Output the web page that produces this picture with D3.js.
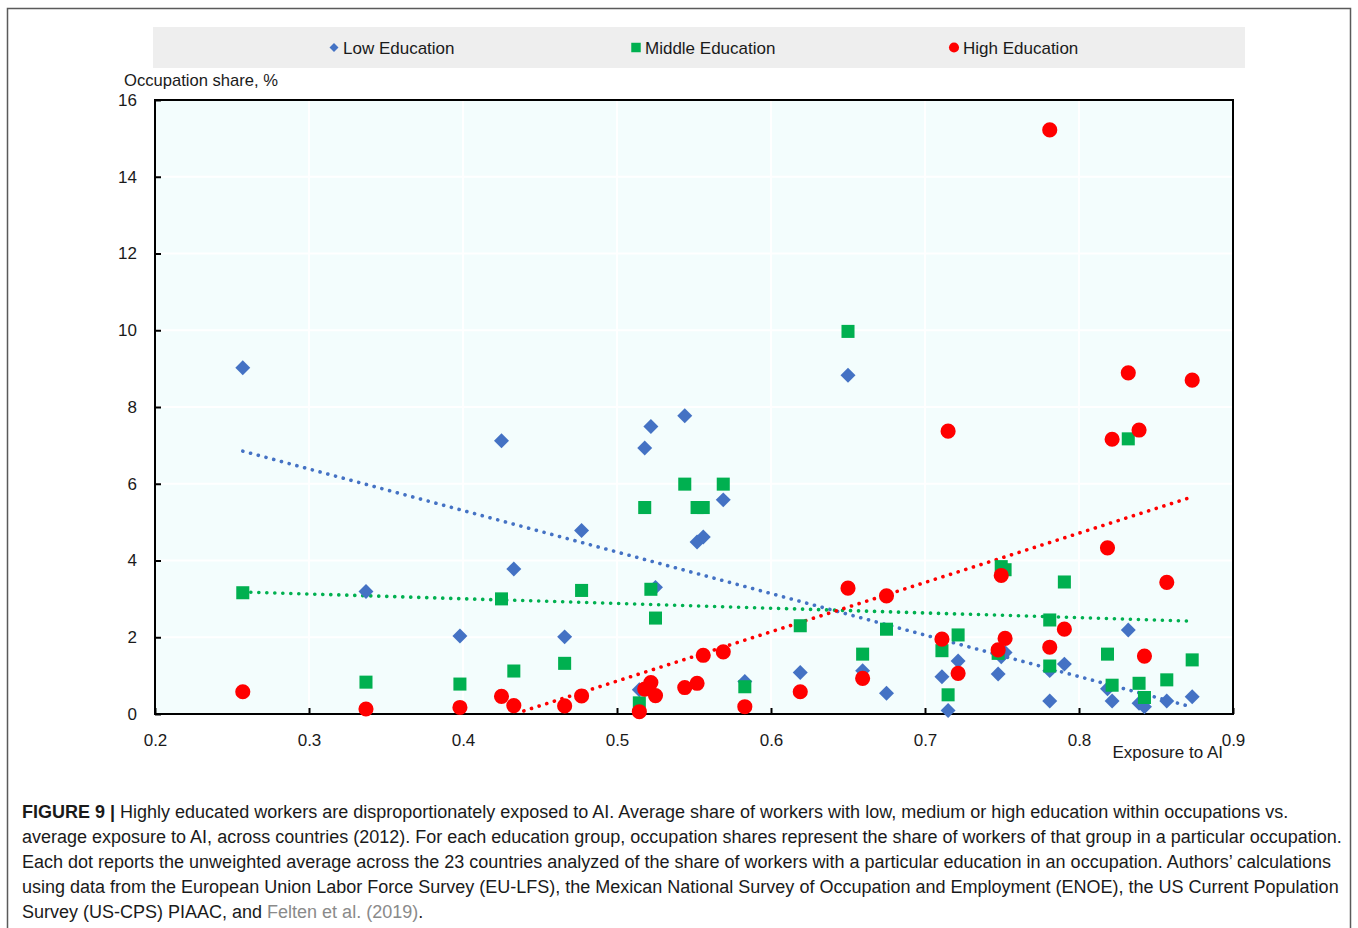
<!DOCTYPE html>
<html>
<head>
<meta charset="utf-8">
<title></title>
<script src="https://d3js.org/d3.v7.min.js"></script>
<style>
    html, body { margin: 0; padding: 0; background: #fff; }
    svg text { font-family: "Liberation Sans", Arial, sans-serif; fill: #1a1a1a; }
</style>
</head>
<body>
<div id="chart"></div>
<script>
    // exposure to AI per occupation (x) and occupation shares (%) per education group
    const exposure = [0.257, 0.337, 0.398, 0.425, 0.433, 0.466, 0.477, 0.5145, 0.518, 0.522,
        0.525, 0.544, 0.552, 0.556, 0.569, 0.583, 0.619, 0.650, 0.6595, 0.675,
        0.711, 0.715, 0.7215, 0.7475, 0.7495, 0.752, 0.781, 0.781, 0.7905, 0.8185,
        0.8215, 0.832, 0.839, 0.8425, 0.857, 0.8735];
    const lowShare = [9.02, 3.19, 2.03, 7.12, 3.78, 2.01, 4.78, 0.63, 6.93, 7.49,
        3.30, 7.77, 4.48, 4.61, 5.58, 0.85, 1.08, 8.83, 1.13, 0.54,
        0.97, 0.09, 1.38, 1.04, 1.49, 1.60, 0.34, 1.13, 1.30, 0.66,
        0.34, 2.19, 0.28, 0.19, 0.34, 0.45];
    const middleShare = [3.16, 0.83, 0.78, 3.00, 1.12, 1.32, 3.22, 0.29, 5.38, 3.25,
        2.50, 5.99, 5.38, 5.38, 5.99, 0.71, 2.30, 9.97, 1.56, 2.21,
        1.65, 0.50, 2.06, 1.58, 3.84, 3.76, 2.45, 1.25, 3.44, 1.56,
        0.75, 7.17, 0.80, 0.43, 0.89, 1.41];
    const highShare = [0.58, 0.13, 0.17, 0.46, 0.22, 0.21, 0.47, 0.06, 0.65, 0.82,
        0.48, 0.69, 0.80, 1.53, 1.62, 0.19, 0.58, 3.28, 0.93, 3.08,
        1.95, 7.37, 1.06, 1.67, 3.61, 1.97, 15.22, 1.74, 2.21, 4.33,
        7.16, 8.89, 7.40, 1.51, 3.43, 8.70];

    // trend line end points [exposure, share]
    const lowTrend = [[0.257, 6.85], [0.8735, 0.18]];
    const middleTrend = [[0.257, 3.18], [0.8735, 2.42]];
    const highTrend = [[0.4395, 0.08], [0.8706, 5.62]];

    const xTicks = [0.2, 0.3, 0.4, 0.5, 0.6, 0.7, 0.8, 0.9];
    const yTicks = [0, 2, 4, 6, 8, 10, 12, 14, 16];

    const seriesNames = ["Low Education", "Middle Education", "High Education"];
    const seriesColors = ["#4472C4", "#00B050", "#FF0000"];

    const series = [
        { name: seriesNames[0], color: seriesColors[0], values: lowShare, trend: lowTrend, shape: "diamond" },
        { name: seriesNames[1], color: seriesColors[1], values: middleShare, trend: middleTrend, shape: "square" },
        { name: seriesNames[2], color: seriesColors[2], values: highShare, trend: highTrend, shape: "circle" }
    ];

    const W = 1358, H = 928;
    const plot = { left: 155, right: 1233, top: 100, bottom: 714 };

    const svg = d3.select("#chart").append("svg")
        .attr("width", W)
        .attr("height", H);

    // outer frame
    svg.append("rect")
        .attr("x", 7.5).attr("y", 8.5)
        .attr("width", 1343).attr("height", 940)
        .attr("fill", "none")
        .attr("stroke", "#5a5a5a")
        .attr("stroke-width", 1.5);

    const x = d3.scaleLinear().domain([0.2, 0.9]).range([plot.left, plot.right]);
    const y = d3.scaleLinear().domain([0, 16]).range([plot.bottom, plot.top]);

    // plot background
    svg.append("rect")
        .attr("x", plot.left).attr("y", plot.top)
        .attr("width", plot.right - plot.left)
        .attr("height", plot.bottom - plot.top)
        .attr("fill", "#f3fdfd");

    // white gridlines
    svg.append("g").selectAll("line")
        .data(xTicks.slice(1, -1))
        .join("line")
        .attr("x1", d => x(d)).attr("x2", d => x(d))
        .attr("y1", plot.top).attr("y2", plot.bottom)
        .attr("stroke", "#ffffff").attr("stroke-width", 2);
    svg.append("g").selectAll("line")
        .data(yTicks.slice(1, -1))
        .join("line")
        .attr("x1", plot.left).attr("x2", plot.right)
        .attr("y1", d => y(d)).attr("y2", d => y(d))
        .attr("stroke", "#ffffff").attr("stroke-width", 2);

    // axes (ticks point inwards)
    const xAxis = svg.append("g")
        .attr("transform", `translate(0,${plot.bottom})`)
        .call(d3.axisBottom(x).tickValues(xTicks).tickFormat(d3.format(".1f"))
            .tickSizeInner(-6).tickSizeOuter(0).tickPadding(20));
    const yAxis = svg.append("g")
        .attr("transform", `translate(${plot.left},0)`)
        .call(d3.axisLeft(y).tickValues(yTicks).tickFormat(d3.format("d"))
            .tickSizeInner(-6).tickSizeOuter(0).tickPadding(18));
    [xAxis, yAxis].forEach(a => {
        a.select(".domain").remove();
        a.selectAll(".tick line").attr("stroke", "#000").attr("stroke-width", 2);
        a.selectAll(".tick text").attr("font-size", 17).attr("fill", "#1a1a1a")
            .style("font-family", "'Liberation Sans', Arial, sans-serif");
    });
    xAxis.selectAll(".tick text").attr("dy", "0.71em");

    // plot border
    svg.append("rect")
        .attr("x", plot.left).attr("y", plot.top)
        .attr("width", plot.right - plot.left)
        .attr("height", plot.bottom - plot.top)
        .attr("fill", "none")
        .attr("stroke", "#000").attr("stroke-width", 2);

    // axis titles
    svg.append("text")
        .attr("x", 124).attr("y", 86)
        .attr("font-size", 16.6)
        .text("Occupation share, %");
    svg.append("text")
        .attr("x", 1223).attr("y", 758)
        .attr("text-anchor", "end")
        .attr("font-size", 17)
        .text("Exposure to AI");

    // trend lines (dotted)
    const line = d3.line().x(d => x(d[0])).y(d => y(d[1]));
    series.forEach(s => {
        svg.append("path")
            .datum(s.trend)
            .attr("d", line)
            .attr("fill", "none")
            .attr("stroke", s.color)
            .attr("stroke-width", 3.6)
            .attr("stroke-linecap", "round")
            .attr("stroke-dasharray", "0.1 7.9");
    });

    // marker shapes
    const markerPath = (shape, big) => {
        if (shape === "diamond") return d3.symbol(d3.symbolSquare, big ? 112 : 40)();
        if (shape === "square") return d3.symbol(d3.symbolSquare, big ? 170 : 90)();
        return d3.symbol(d3.symbolCircle, big ? 180 : 80)();
    };

    // points
    series.forEach(s => {
        svg.append("g").selectAll("path")
            .data(s.values.map((v, i) => [exposure[i], v]))
            .join("path")
            .attr("d", markerPath(s.shape, true))
            .attr("transform", d => `translate(${x(d[0])},${y(d[1])})` + (s.shape === "diamond" ? " rotate(45)" : ""))
            .attr("fill", s.color);
    });

    // legend
    svg.append("rect")
        .attr("x", 153).attr("y", 27)
        .attr("width", 1092).attr("height", 41)
        .attr("fill", "#eeeeee");
    const legendX = [334, 636, 954];
    series.forEach((s, i) => {
        svg.append("path")
            .attr("d", markerPath(s.shape, false))
            .attr("transform", `translate(${legendX[i]},47.5)` + (s.shape === "diamond" ? " rotate(45)" : ""))
            .attr("fill", s.color);
        svg.append("text")
            .attr("x", legendX[i] + 9).attr("y", 54)
            .attr("font-size", 17)
            .text(s.name);
    });

    // caption
    const caption = svg.append("text").attr("font-size", 18).attr("fill", "#333");
    const capLines = [
        [["FIGURE 9 |", "bold"], [" Highly educated workers are disproportionately exposed to AI. Average share of workers with low, medium or high education within occupations vs.", null]],
        [["average exposure to AI, across countries (2012). For each education group, occupation shares represent the share of workers of that group in a particular occupation.", null]],
        [["Each dot reports the unweighted average across the 23 countries analyzed of the share of workers with a particular education in an occupation. Authors\u2019 calculations", null]],
        [["using data from the European Union Labor Force Survey (EU-LFS), the Mexican National Survey of Occupation and Employment (ENOE), the US Current Population", null]],
        [["Survey (US-CPS) PIAAC, and ", null], ["Felten et al. (2019)", "grey"], [".", null]]
    ];
    capLines.forEach((parts, li) => {
        parts.forEach((p, pi) => {
            const t = caption.append("tspan").text(p[0]);
            if (pi === 0) t.attr("x", 22).attr("y", 818 + li * 25);
            if (p[1] === "bold") t.attr("font-weight", "bold");
            if (p[1] === "grey") t.attr("fill", "#8a8a8a");
        });
    });
</script>
</body>
</html>
